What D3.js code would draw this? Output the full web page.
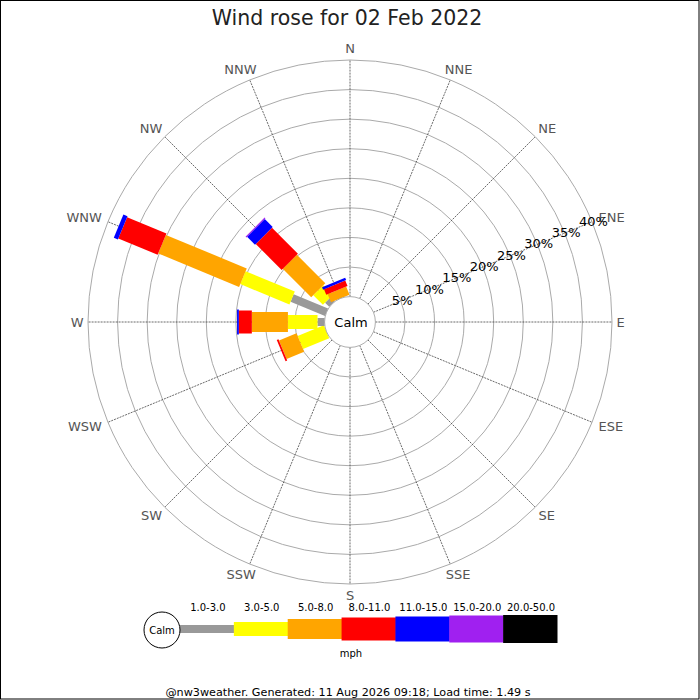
<!DOCTYPE html>
<html>
<head>
<meta charset="utf-8">
<style>
  body { margin: 0; background: #fff; }
  svg { display: block; font-family: "DejaVu Sans", sans-serif; }
</style>
</head>
<body>
<div id="rose"></div>
<script src="https://d3js.org/d3.v7.min.js"></script>
<script>
    // Wind rose, 02 Feb 2022

    var directions = ["N", "NNE", "NE", "ENE", "E", "ESE", "SE", "SSE",
                      "S", "SSW", "SW", "WSW", "W", "WNW", "NW", "NNW"];

    var speedBins = ["1.0-3.0", "3.0-5.0", "5.0-8.0", "8.0-11.0", "11.0-15.0", "15.0-20.0", "20.0-50.0"];
    var binColors = ["#999999", "#ffff00", "#ffa500", "#ff0000", "#0000ff", "#a020f0", "#000000"];

    // percent of time, per direction (N ... NNW) for each speed bin
    var pct_1_3   = [0, 0, 0, 0, 0, 0, 0, 0, 0, 0, 0, 0,    1.2, 6.3,  1.0, 0];
    var pct_3_5   = [0, 0, 0, 0, 0, 0, 0, 0, 0, 0, 0, 4.8,  5.0, 9.0,  2.3, 0];
    var pct_5_8   = [0, 0, 0, 0, 0, 0, 0, 0, 0, 0, 0, 3.2,  6.1, 14.8, 6.8, 1.5];
    var pct_8_11  = [0, 0, 0, 0, 0, 0, 0, 0, 0, 0, 0, 0.3,  2.2, 7.2,  6.2, 1.0];
    var pct_11_15 = [0, 0, 0, 0, 0, 0, 0, 0, 0, 0, 0, 0,    0.3, 0.75, 1.9, 0.45];
    var pct_15_20 = [0, 0, 0, 0, 0, 0, 0, 0, 0, 0, 0, 0,    0,   0,    0.2, 0];
    var pct_20_50 = [0, 0, 0, 0, 0, 0, 0, 0, 0, 0, 0, 0,    0,   0,    0,   0];

    var ringTicks = [5, 10, 15, 20, 25, 30, 35, 40];

    var titleText = "Wind rose for 02 Feb 2022";
    var footerText = "@nw3weather. Generated: 11 Aug 2026 09:18; Load time: 1.49 s";

    var series = [pct_1_3, pct_3_5, pct_5_8, pct_8_11, pct_11_15, pct_15_20, pct_20_50];
    var barWidths = [8, 14, 20, 23, 25, 27, 28];

    var width = 700, height = 700,
        cx = 350, cy = 322,
        calmR = 25.4, outerR = 262;

    var svg = d3.select("#rose").append("svg")
        .attr("width", width)
        .attr("height", height);

    svg.append("rect")
        .attr("x", 0.5).attr("y", 0.5)
        .attr("width", width - 1.5).attr("height", height - 1.5)
        .attr("fill", "#fff")
        .attr("stroke", "#000");

    var r = d3.scaleLinear().domain([0, 40]).range([calmR, outerR]);
    var angle = d3.scalePoint().domain(directions).range([0, 337.5]); // degrees, clockwise from N
    var rad = d => angle(d) * Math.PI / 180;

    svg.append("text")
        .attr("x", 347).attr("y", 25)
        .attr("text-anchor", "middle")
        .style("font-size", "20.5px")
        .attr("fill", "#222")
        .text(titleText);

    var g = svg.append("g").attr("transform", "translate(" + cx + "," + cy + ")");

    // rings
    g.selectAll("circle.ring")
        .data(ringTicks)
        .enter().append("circle")
        .attr("class", "ring")
        .attr("r", d => r(d))
        .attr("fill", "none")
        .attr("stroke", "#aaa")
        .attr("stroke-width", 1);

    // spokes
    g.selectAll("line.spoke")
        .data(directions)
        .enter().append("line")
        .attr("class", "spoke")
        .attr("x1", d => Math.sin(rad(d)) * calmR)
        .attr("y1", d => -Math.cos(rad(d)) * calmR)
        .attr("x2", d => Math.sin(rad(d)) * outerR)
        .attr("y2", d => -Math.cos(rad(d)) * outerR)
        .attr("stroke", "#444")
        .attr("stroke-width", 0.8)
        .attr("stroke-dasharray", "2,1");

    // direction labels
    g.selectAll("text.dir")
        .data(directions)
        .enter().append("text")
        .attr("class", "dir")
        .attr("text-anchor", "middle")
        .attr("dy", "0.36em")
        .style("font-size", "13px")
        .attr("fill", "#555")
        .attr("y", d => -Math.cos(rad(d)) * 273.5)
        .text(d => d)
        .each(function(d) {
            var s = Math.sin(rad(d));
            var w = this.getComputedTextLength();
            var R = Math.abs(s) > 0.99 ? 266.5 : 270;
            d3.select(this).attr("x", s * (R + w / 2));
        });

    // stacked bars
    directions.forEach(function(dir, i) {
        var start = 0;
        series.forEach(function(vals, k) {
            var v = vals[i];
            if (v > 0) {
                g.append("rect")
                    .attr("transform", "rotate(" + angle(dir) + ")")
                    .attr("x", -barWidths[k] / 2)
                    .attr("y", -r(start + v))
                    .attr("width", barWidths[k])
                    .attr("height", r(start + v) - r(start))
                    .attr("fill", binColors[k]);
            }
            start += v;
        });
    });

    // calm circle
    g.append("circle")
        .attr("r", calmR)
        .attr("fill", "#fff")
        .attr("stroke", "#999")
        .attr("stroke-width", 0.8);
    g.append("text")
        .attr("text-anchor", "middle")
        .attr("dy", "0.36em")
        .attr("x", 1)
        .style("font-size", "13px")
        .attr("fill", "#000")
        .text("Calm");

    // percent labels along ENE
    var a = rad("ENE");
    g.selectAll("text.pct")
        .data(ringTicks)
        .enter().append("text")
        .attr("class", "pct")
        .attr("text-anchor", "middle")
        .attr("dy", "0.36em")
        .style("font-size", "13px")
        .attr("fill", "#000")
        .attr("x", d => Math.sin(a) * (r(d) + 1.5))
        .attr("y", d => -Math.cos(a) * (r(d) + 1.5))
        .text(d => d + "%");

    // legend
    var legendY = 629;
    var lx = d3.scaleBand().domain(speedBins).range([180, 557]);

    var legend = svg.append("g");
    legend.selectAll("rect")
        .data(speedBins)
        .enter().append("rect")
        .attr("x", d => lx(d))
        .attr("width", lx.bandwidth() + 0.5)
        .attr("y", (d, k) => legendY - barWidths[k] / 2)
        .attr("height", (d, k) => barWidths[k])
        .attr("fill", (d, k) => binColors[k]);

    legend.selectAll("text.bin")
        .data(speedBins)
        .enter().append("text")
        .attr("class", "bin")
        .attr("x", d => lx(d) + lx.bandwidth() / 2 + 1)
        .attr("y", 611)
        .attr("text-anchor", "middle")
        .style("font-size", "10px")
        .attr("fill", "#000")
        .text(d => d);

    legend.append("circle")
        .attr("cx", 162).attr("cy", 630)
        .attr("r", 18)
        .attr("fill", "#fff")
        .attr("stroke", "#000");
    legend.append("text")
        .attr("x", 162).attr("y", 630)
        .attr("dy", "0.36em")
        .attr("text-anchor", "middle")
        .style("font-size", "10px")
        .text("Calm");

    legend.append("text")
        .attr("x", 351).attr("y", 657)
        .attr("text-anchor", "middle")
        .style("font-size", "10px")
        .text("mph");

    svg.append("text")
        .attr("x", 348).attr("y", 696)
        .attr("text-anchor", "middle")
        .style("font-size", "11.2px")
        .attr("fill", "#000")
        .text(footerText);
</script>
</body>
</html>
